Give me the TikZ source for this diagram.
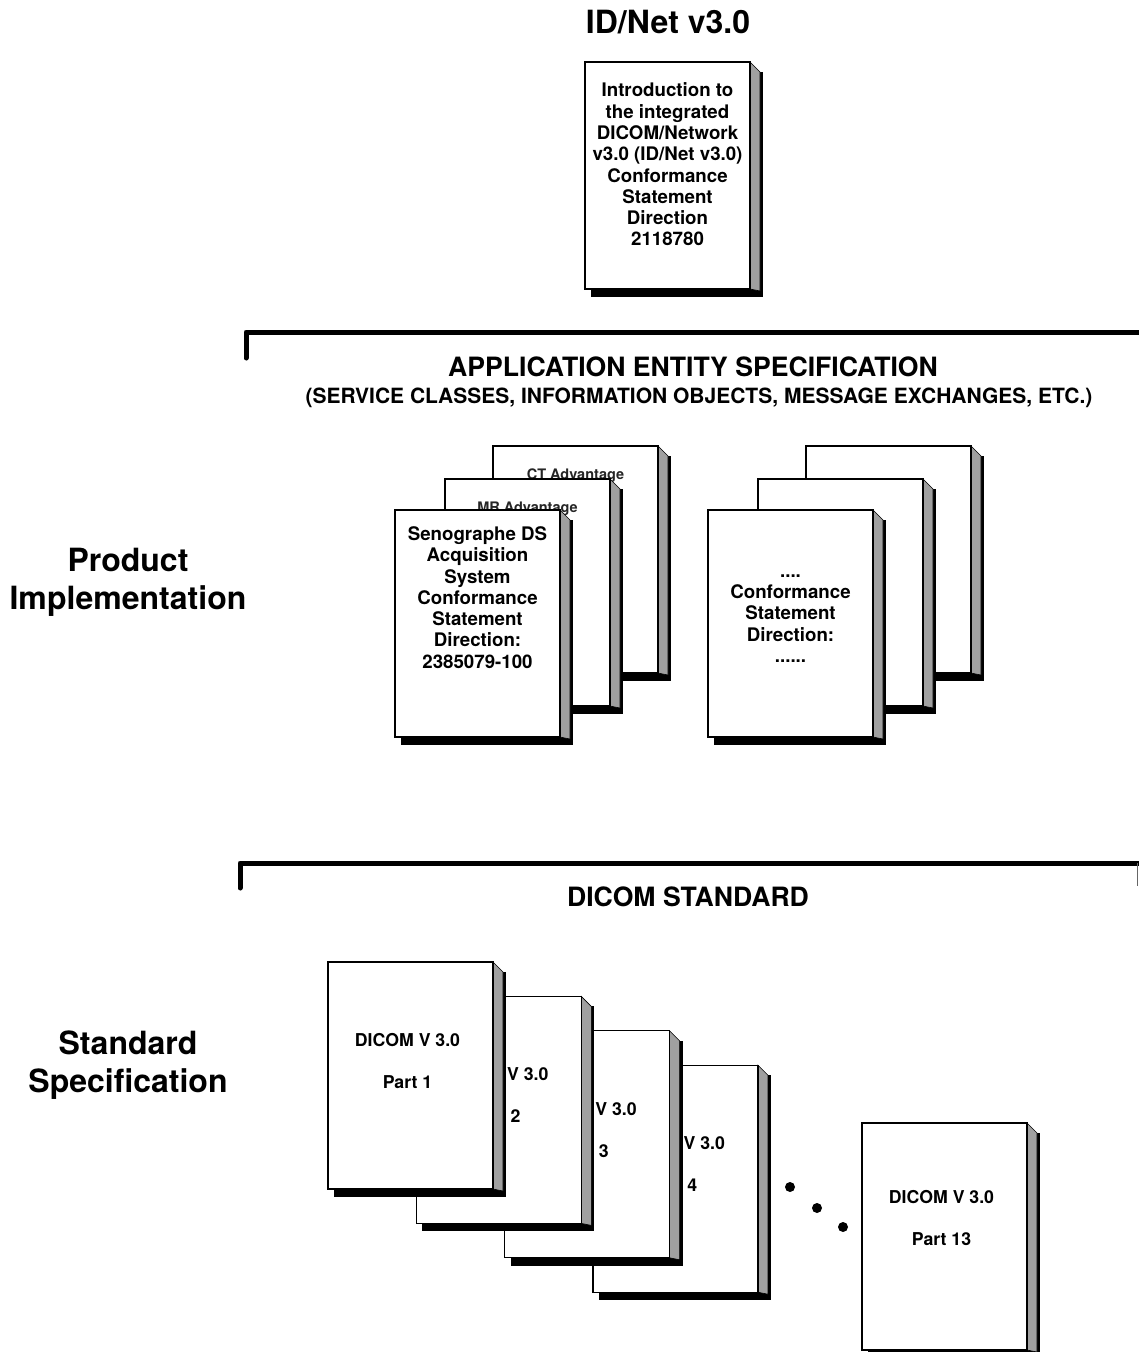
\documentclass[tikz,border=0pt]{standalone}
\usepackage{fontspec}
\setmainfont{TeX Gyre Heros}
\usetikzlibrary{positioning}
\definecolor{spinegray}{RGB}{160,160,160}

% one document: black shadow, grey spine, white front page
\newcommand{\docbook}[3]{% name, x and y of the front top-left corner
  \fill[black] ({#2+6},{#3+10}) rectangle ({#2+\pagew+13},{#3+\pageh+8});
  \filldraw[spine] ({#2+\pagew},{#3}) -- ({#2+\pagew+10},{#3+10})
    -- ({#2+\pagew+10},{#3+\pageh+2}) -- ({#2+\pagew},{#3+\pageh}) -- cycle;
  \node[page, anchor=north west] (#1) at (#2,#3) {};
}

\tikzset{
  page/.style={draw=black, fill=white, line width=1.3pt, inner sep=0pt, outer sep=0pt,
    minimum width=\pagew pt, minimum height=\pageh pt},
  spine/.style={fill=spinegray, draw=black, line width=0.6pt},
  booktext/.style={font=\fontsize{18.7}{21.3}\selectfont\bfseries, align=center, inner sep=0pt},
  parttext/.style={font=\fontsize{17.7}{21}\selectfont\bfseries, align=center, inner sep=0pt},
  ghosttext/.style={font=\fontsize{14.5}{17}\selectfont\bfseries, inner sep=0pt, text=black!85},
  header/.style={font=\fontsize{26.6}{30}\selectfont\bfseries, inner sep=0pt},
  sidelabel/.style={font=\fontsize{32}{38}\selectfont\bfseries, align=center, inner sep=0pt},
  bracket/.style={line width=5pt, line cap=round, line join=round},
}

\begin{document}
\begin{tikzpicture}[x=1pt, y=-1pt]
  \def\pagew{165}  % page width
  \def\pageh{227}  % page height
  \useasboundingbox (0,0) rectangle (1138,1352);

  % Top document
  \node[font=\fontsize{32}{36}\selectfont\bfseries, inner sep=0pt] (title) at (668,22) {ID/Net v3.0};
  \docbook{intro}{585}{62}
  \node[booktext] (intro-txt) at ([yshift=11pt]intro.center)
    {Introduction to\\the integrated\\DICOM/Network\\v3.0 (ID/Net v3.0)\\Conformance\\Statement\\Direction\\2118780};

  % Upper bracket and headers
  \draw[bracket] (246,358) -- (246,332) -- (1142,332);
  \node[header] (aespec) at (693,367) {APPLICATION ENTITY SPECIFICATION};
  \node[font=\fontsize{21}{24}\selectfont\bfseries, inner sep=0pt] (aesub) at (699,398)
    {(SERVICE CLASSES, INFORMATION OBJECTS, MESSAGE EXCHANGES, ETC.)};

  \node[sidelabel] (product) at (128,582) {Product\\Implementation};

  % Left stack (back to front)
  \docbook{ct}{493}{446}
  \node[ghosttext, below=23pt of ct.north] (ct-txt) {CT Advantage};
  \docbook{mr}{445}{479}
  \node[ghosttext, below=23pt of mr.north] (mr-txt) {MR Advantage};
  \docbook{seno}{395}{510}
  \node[booktext] (seno-txt) at ([yshift=26pt]seno.center)
    {Senographe DS\\Acquisition\\System\\Conformance\\Statement\\Direction:\\2385079-100};

  % Right stack (back to front)
  \docbook{other3}{806}{446}
  \docbook{other2}{758}{479}
  \docbook{other1}{708}{510}
  \node[booktext] (other-txt) at ([yshift=5pt]other1.center)
    {....\\Conformance\\Statement\\Direction:\\......};

  % Lower bracket and header
  \draw[bracket] (240,888) -- (240,863) -- (1142,863);
  \draw[line width=1pt, black!60] (1137,863) -- (1137,886);
  \node[header] (dicomstd) at (688,897) {DICOM STANDARD};

  \node[sidelabel] (standard) at (128,1065) {Standard\\Specification};

  % DICOM parts 4 .. 1 (back to front)
  \foreach \i [evaluate=\i as \px using 328+88.3*(\i-1),
               evaluate=\i as \py using 962+34.4*(\i-1)] in {4,3,2,1} {
    \docbook{part\i}{\px}{\py}
    \node[parttext] (part\i-txt) at ([xshift=-3pt, yshift=14.5pt]part\i.center) {DICOM V 3.0\\[21pt]Part \i};
  }

  % Ellipsis dots
  \foreach \dx/\dy in {790/1187, 817/1208, 843/1227}
    \fill (\dx,\dy) circle (5pt);

  \docbook{part13}{862}{1123}
  \node[parttext] (part13-txt) at ([xshift=-3pt, yshift=18pt]part13.center) {DICOM V 3.0\\[21pt]Part 13};
\end{tikzpicture}
\end{document}
